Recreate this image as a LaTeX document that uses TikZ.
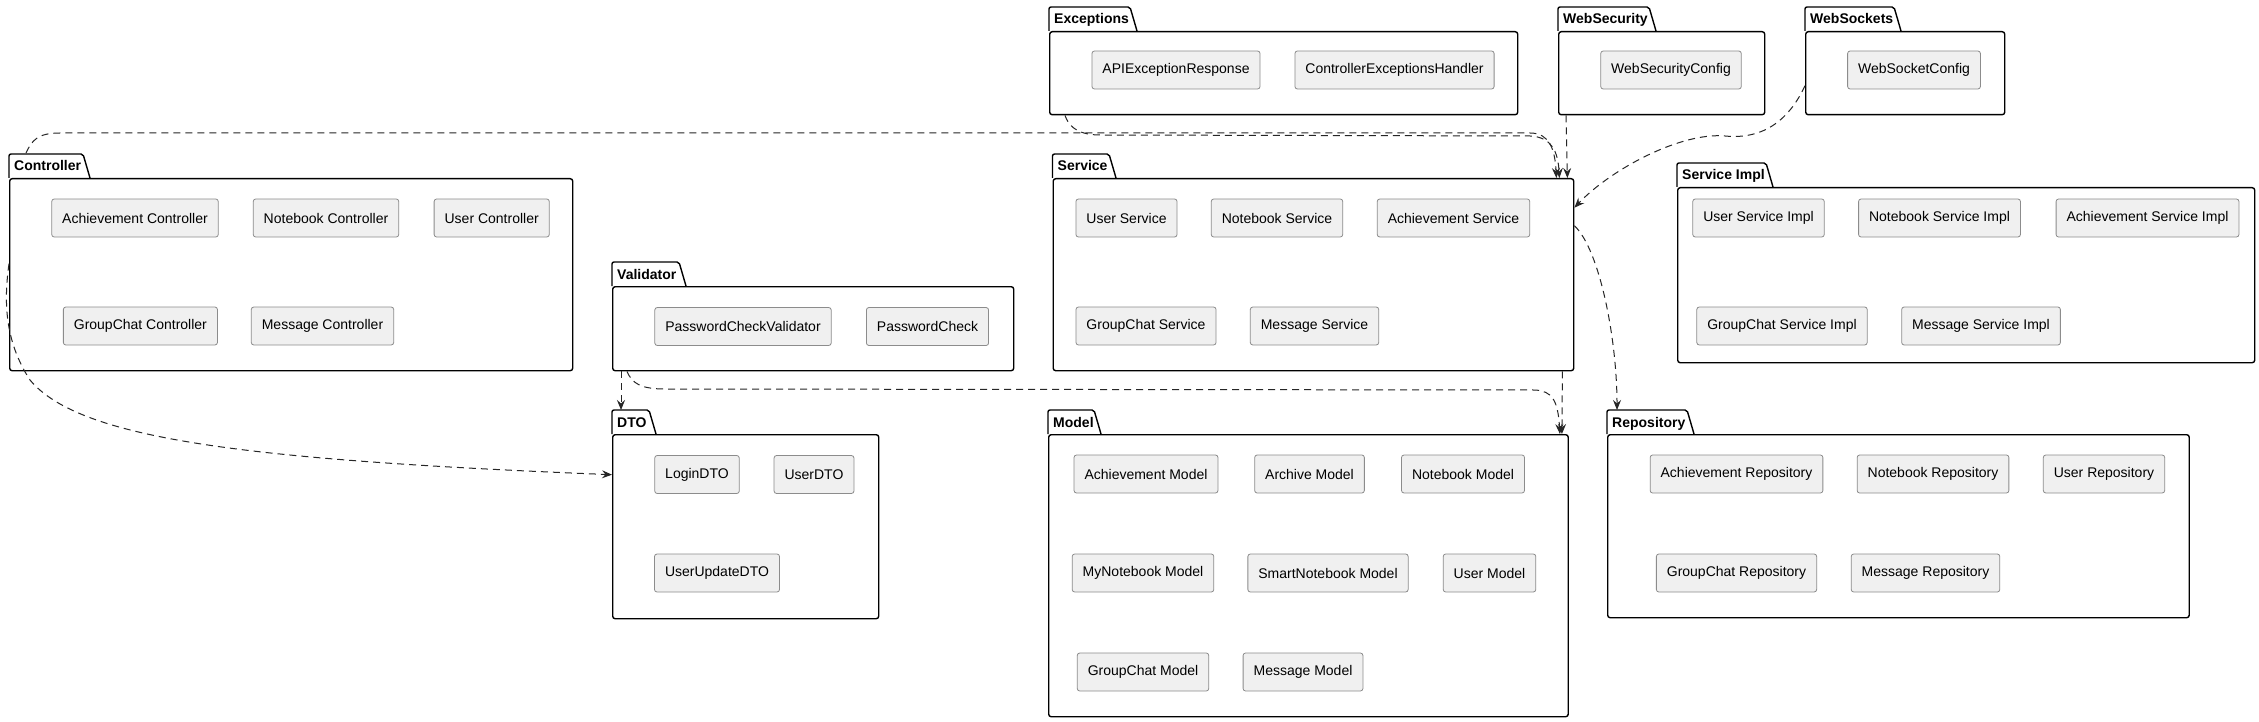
\documentclass[tikz,border=0pt]{standalone}
\usepackage{fontspec}
\setmainfont{Liberation Sans}
\usetikzlibrary{arrows.meta, positioning}

\begin{document}
\begin{tikzpicture}[x=1pt, y=-1pt,
  pkgbody/.style={draw=black, line width=1.4pt, rounded corners=2.5pt, inner sep=0pt, anchor=north west},
  pkgtab/.style={draw=black, line width=1.4pt, rounded corners=2pt},
  pkglabel/.style={anchor=base west, inner sep=0pt, font=\fontsize{14}{16}\selectfont\bfseries},
  cls/.style={draw=black!45, fill=black!6, line width=0.8pt, rounded corners=2.5pt, minimum height=38pt, inner xsep=10.5pt, inner ysep=0pt, font=\fontsize{14}{16}\selectfont},
  dep/.style={draw=black!85, line width=1pt, dash pattern=on 7pt off 5pt, -{Stealth[length=10pt, width=8pt, inset=3.5pt]}}]
\path[use as bounding box, fill=white] (0,0) rectangle (2259,722);

% Controller
\node[pkgbody, minimum width=563pt, minimum height=192pt] (controller) at (9,178) {};
\draw[pkgtab] (controller.north west) -- ++(0,-24) -- ++(74,0) -- ++(7,24);
\node[pkglabel] (controller-lbl) at ([xshift=5pt, yshift=7pt]controller.north west) {Controller};
\node[cls] (achCtrl) at (135,218) {Achievement Controller};
\node[cls] (nbCtrl) at (326,218) {Notebook Controller};
\node[cls] (userCtrl) at (491.7,218) {User Controller};
\node[cls] (gcCtrl) at (140.4,326) {GroupChat Controller};
\node[cls] (msgCtrl) at (322.5,326) {Message Controller};

% Validator
\node[pkgbody, minimum width=401pt, minimum height=84pt] (validator) at (612,286) {};
\draw[pkgtab] (validator.north west) -- ++(0,-24) -- ++(67,0) -- ++(7,24);
\node[pkglabel] (validator-lbl) at ([xshift=5pt, yshift=7pt]validator.north west) {Validator};
\node[cls] (pwValidator) at (743,326.5) {PasswordCheckValidator};
\node[cls] (pwCheck) at (927.5,326.5) {PasswordCheck};

% DTO
\node[pkgbody, minimum width=266pt, minimum height=184pt] (dto) at (612,434) {};
\draw[pkgtab] (dto.north west) -- ++(0,-24) -- ++(37,0) -- ++(7,24);
\node[pkglabel] (dto-lbl) at ([xshift=5pt, yshift=7pt]dto.north west) {DTO};
\node[cls] (loginDto) at (697,474.5) {LoginDTO};
\node[cls] (userDto) at (814,474.5) {UserDTO};
\node[cls] (userUpdDto) at (717,573) {UserUpdateDTO};

% Exceptions
\node[pkgbody, minimum width=468pt, minimum height=83pt] (exceptions) at (1049,31) {};
\draw[pkgtab] (exceptions.north west) -- ++(0,-24) -- ++(81,0) -- ++(7,24);
\node[pkglabel] (exceptions-lbl) at ([xshift=5pt, yshift=7pt]exceptions.north west) {Exceptions};
\node[cls] (apiExc) at (1176,70) {APIExceptionResponse};
\node[cls] (ctrlExc) at (1394.5,70) {ControllerExceptionsHandler};

% Service
\node[pkgbody, minimum width=520.5pt, minimum height=192pt] (service) at (1052.5,178) {};
\draw[pkgtab] (service.north west) -- ++(0,-24) -- ++(56.5,0) -- ++(7,24);
\node[pkglabel] (service-lbl) at ([xshift=5pt, yshift=7pt]service.north west) {Service};
\node[cls] (userSvc) at (1126.5,218) {User Service};
\node[cls] (nbSvc) at (1277,218) {Notebook Service};
\node[cls] (achSvc) at (1453.5,218) {Achievement Service};
\node[cls] (gcSvc) at (1146,326) {GroupChat Service};
\node[cls] (msgSvc) at (1314.5,326) {Message Service};

% WebSecurity
\node[pkgbody, minimum width=206pt, minimum height=83pt] (websecurity) at (1558,31) {};
\draw[pkgtab] (websecurity.north west) -- ++(0,-24) -- ++(91,0) -- ++(7,24);
\node[pkglabel] (websecurity-lbl) at ([xshift=5pt, yshift=7pt]websecurity.north west) {WebSecurity};
\node[cls] (webSecCfg) at (1671,70) {WebSecurityConfig};

% WebSockets
\node[pkgbody, minimum width=199pt, minimum height=83pt] (websockets) at (1805,31) {};
\draw[pkgtab] (websockets.north west) -- ++(0,-24) -- ++(89,0) -- ++(7,24);
\node[pkglabel] (websockets-lbl) at ([xshift=5pt, yshift=7pt]websockets.north west) {WebSockets};
\node[cls] (webSockCfg) at (1914,70) {WebSocketConfig};

% Service Impl
\node[pkgbody, minimum width=577pt, minimum height=175pt] (serviceimpl) at (1677,187) {};
\draw[pkgtab] (serviceimpl.north west) -- ++(0,-24) -- ++(89,0) -- ++(7,24);
\node[pkglabel] (serviceimpl-lbl) at ([xshift=5pt, yshift=7pt]serviceimpl.north west) {Service Impl};
\node[cls] (userImpl) at (1758.5,218) {User Service Impl};
\node[cls] (nbImpl) at (1939.5,218) {Notebook Service Impl};
\node[cls] (achImpl) at (2147.5,218) {Achievement Service Impl};
\node[cls] (gcImpl) at (1782,326) {GroupChat Service Impl};
\node[cls] (msgImpl) at (1981,326) {Message Service Impl};

% Model
\node[pkgbody, minimum width=519.5pt, minimum height=282pt] (model) at (1048,434) {};
\draw[pkgtab] (model.north west) -- ++(0,-24) -- ++(46,0) -- ++(7,24);
\node[pkglabel] (model-lbl) at ([xshift=5pt, yshift=7pt]model.north west) {Model};
\node[cls] (achModel) at (1146,474) {Achievement Model};
\node[cls] (archModel) at (1309.5,474) {Archive Model};
\node[cls] (nbModel) at (1463,474) {Notebook Model};
\node[cls] (myNbModel) at (1143,573) {MyNotebook Model};
\node[cls] (smartNbModel) at (1328,573) {SmartNotebook Model};
\node[cls] (userModel) at (1489.5,573) {User Model};
\node[cls] (gcModel) at (1143,672) {GroupChat Model};
\node[cls] (msgModel) at (1303,672) {Message Model};

% Repository
\node[pkgbody, minimum width=581.5pt, minimum height=183pt] (repository) at (1607,434) {};
\draw[pkgtab] (repository.north west) -- ++(0,-24) -- ++(80,0) -- ++(7,24);
\node[pkglabel] (repository-lbl) at ([xshift=5pt, yshift=7pt]repository.north west) {Repository};
\node[cls] (achRepo) at (1736.5,474) {Achievement Repository};
\node[cls] (nbRepo) at (1933,474) {Notebook Repository};
\node[cls] (userRepo) at (2104,474) {User Repository};
\node[cls] (gcRepo) at (1736.5,573) {GroupChat Repository};
\node[cls] (msgRepo) at (1925.5,573) {Message Repository};

% Dependencies
\draw[dep] ([xshift=17pt, yshift=25pt]controller.north west) .. controls (32,140) and (38,133) .. (60,133) -- (1530,133) .. controls (1550,133) and (1555,150) .. ([xshift=-18pt]service.north east);
\draw[dep] ([xshift=16pt]exceptions.south west) .. controls (1068,124) and (1075,135) .. (1100,135) -- (1530,136) .. controls (1552,137) and (1558,152) .. ([xshift=-15pt]service.north east);
\draw[dep] ([xshift=8pt]websecurity.south west) -- ([xshift=-7pt]service.north east);
\draw[dep] ([yshift=-12.5pt]websockets.west) .. controls (1790,118) and (1765,140) .. (1725,136) .. controls (1680,132) and (1610,170) .. ([yshift=67pt]service.east);
\draw[dep] ([yshift=49pt]service.east) .. controls (1600,250) and (1617,340) .. ([xshift=10pt, yshift=24pt]repository.north west);
\draw[dep] ([xshift=-12pt]service.south east) -- ([xshift=-7pt]model.north east);
\draw[dep] ([xshift=15pt]validator.south west) .. controls (632,383) and (640,389) .. (665,389) -- (1535,390) .. controls (1552,391) and (1558,400) .. ([xshift=-9pt]model.north east);
\draw[dep] ([xshift=9pt]validator.south west) -- ([xshift=9pt, yshift=24pt]dto.north west);
\draw[dep] ([yshift=11pt]controller.west) .. controls (4,300) and (4,340) .. (30,380) .. controls (80,440) and (250,460) .. ([yshift=52pt]dto.west);
\end{tikzpicture}
\end{document}
